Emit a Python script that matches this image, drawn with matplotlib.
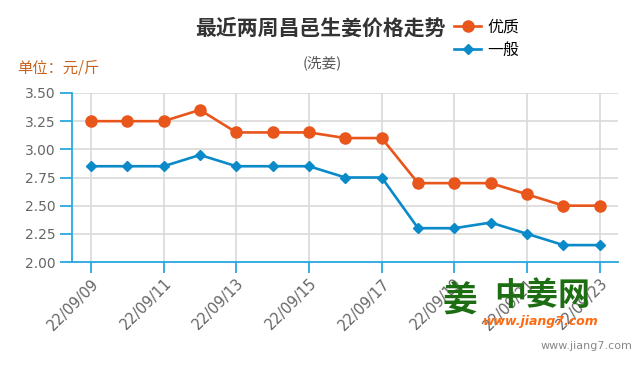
import matplotlib
matplotlib.use("Agg")
import matplotlib.pyplot as plt
from matplotlib.lines import Line2D

plt.rcParams['font.family'] = ['Noto Sans CJK SC', 'DejaVu Sans']

dates = ["22/09/09", "22/09/10", "22/09/11", "22/09/12", "22/09/13", "22/09/14",
         "22/09/15", "22/09/16", "22/09/17", "22/09/18", "22/09/19", "22/09/20",
         "22/09/21", "22/09/22", "22/09/23"]
youzhi = [3.25, 3.25, 3.25, 3.35, 3.15, 3.15, 3.15, 3.10, 3.10, 2.70, 2.70, 2.70, 2.60, 2.50, 2.50]
yiban = [2.85, 2.85, 2.85, 2.95, 2.85, 2.85, 2.85, 2.75, 2.75, 2.30, 2.30, 2.35, 2.25, 2.15, 2.15]
yticks = [2.00, 2.25, 2.50, 2.75, 3.00, 3.25, 3.50]

ORANGE = "#e8561c"
BLUE = "#0a8ac8"
AXBLUE = "#27a8e0"
GRID = "#d9d9d9"
LABEL = "#666666"

W, H = 640, 370
fig = plt.figure(figsize=(6.4, 3.7), dpi=100)
ax = fig.add_axes([72 / W, 1 - 262 / H, (618 - 72) / W, (262 - 93) / H])

x = list(range(len(dates)))
ax.plot(x, youzhi, color=ORANGE, lw=1.9, marker='o', ms=8, zorder=3, label="优质")
ax.plot(x, yiban, color=BLUE, lw=1.9, marker='D', ms=5, zorder=3, label="一般")

ax.set_xlim(-0.52, 14.5)
ax.set_ylim(2.0, 3.5)
ax.set_yticks(yticks)
ax.set_yticklabels([f"{v:.2f}" for v in yticks], family='DejaVu Sans', fontsize=10, color=LABEL)
xt = x[::2]
ax.set_xticks(xt)
ax.set_xticklabels([dates[i] for i in xt], family='DejaVu Sans', fontsize=10.5, color=LABEL,
                   rotation=45, ha='right', va='top', rotation_mode='anchor')

ax.grid(True, color=GRID, lw=1.2, zorder=0)
ax.set_axisbelow(True)
for s in ['top', 'right']:
    ax.spines[s].set_visible(False)
for s in ['left', 'bottom']:
    ax.spines[s].set_color(AXBLUE)
    ax.spines[s].set_linewidth(1.3)
ax.tick_params(axis='y', length=8.5, width=1.3, color=AXBLUE, pad=3)
ax.tick_params(axis='x', length=8, width=1.3, color=AXBLUE, pad=2)

# titles
fig.text(320 / W, 1 - 28 / H, "最近两周昌邑生姜价格走势", ha='center', va='center',
         fontsize=15, fontweight='bold', color="#333333")
fig.text(322 / W, 1 - 63 / H, "(洗姜)", ha='center', va='center', fontsize=10.5, color="#555555")
fig.text(17 / W, 1 - 68 / H, "单位：元/斤", ha='left', va='center', fontsize=11, color="#c8641e")

# legend
handles = [Line2D([], [], color=ORANGE, lw=1.9, marker='o', ms=8),
           Line2D([], [], color=BLUE, lw=1.9, marker='D', ms=5)]
fig.legend(handles, ["优质", "一般"], loc='upper left', bbox_to_anchor=(454 / W, 1 - 19 / H),
           frameon=False, fontsize=11.5, handlelength=1.7, handletextpad=0.4,
           labelspacing=0.35, borderaxespad=0, borderpad=0)

# watermark logo
fig.text(460 / W, 1 - 300 / H, "姜", ha='center', va='center', fontsize=25,
         fontweight='bold', color="#1d6e12")
fig.text(542 / W, 1 - 296 / H, "中姜网", ha='center', va='center', fontsize=23,
         fontweight='bold', color="#1d6e12")
fig.text(541 / W, 1 - 322 / H, "www.jiang7.com", ha='center', va='center', fontsize=9,
         fontweight='bold', style='italic', family='DejaVu Sans', color="#ff6a10")
fig.text(632 / W, 1 - 346 / H, "www.jiang7.com", ha='right', va='center', fontsize=8,
         family='DejaVu Sans', color="#888888")

fig.savefig("out.png", dpi=100)
